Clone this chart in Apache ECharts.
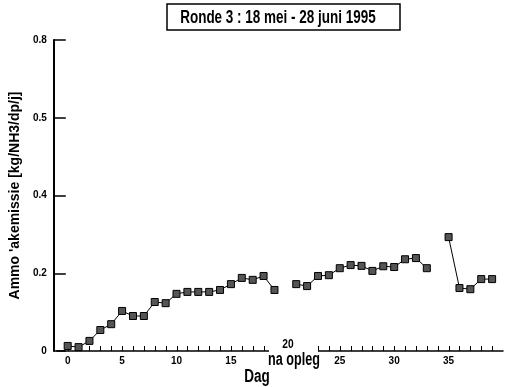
<!DOCTYPE html>
<html>
<head>
<meta charset="utf-8">
<script src="https://cdn.jsdelivr.net/npm/echarts@6/dist/echarts.min.js"></script>
<style>
  html, body { margin: 0; padding: 0; background: #fff; }
  #chart { width: 507px; height: 387px; }
</style>
</head>
<body>
<div id="chart"></div>
<script>
// Ronde 3 — ammoniakemissie per dag (gaps on day 20 and 34)
const days = [0, 1, 2, 3, 4, 5, 6, 7, 8, 9, 10, 11, 12, 13, 14, 15, 16, 17, 18, 19,
  20, 21, 22, 23, 24, 25, 26, 27, 28, 29, 30, 31, 32, 33, 34, 35, 36, 37, 38, 39];
const emission = [0.013, 0.010, 0.026, 0.054, 0.069, 0.103, 0.090, 0.090, 0.126, 0.123,
  0.147, 0.152, 0.152, 0.152, 0.157, 0.172, 0.188, 0.183, 0.193, 0.157,
  null, 0.172, 0.167, 0.193, 0.195, 0.213, 0.221, 0.219, 0.206, 0.218,
  0.216, 0.236, 0.239, 0.213, null, 0.293, 0.162, 0.159, 0.185, 0.185];
const yTickLabels = ['0', '0.2', '0.4', '0.5', '0.8'];
const xLabelValues = [0, 5, 10, 15, 25, 30, 35];
const xTickDays = [0, 1, 2, 3, 4, 5, 6, 7, 8, 9, 10, 11, 12, 13, 14, 15, 16, 17, 18,
  23, 24, 25, 26, 27, 28, 29, 30, 31, 32, 33, 34, 35, 36, 37, 38, 39];

const FONT = "'Liberation Sans', Arial, sans-serif";

// condensed text helper: ECharts axis labels can't be squeezed, graphics can
function narrowText(text, x, y, size, scale) {
  return {
    type: 'group', x: x, y: y, scaleX: scale, z: 110,
    children: [{
      type: 'text', x: 0, y: 0, z: 110,
      style: { text: text, fill: '#000', font: 'bold ' + size + 'px ' + FONT,
        align: 'center', verticalAlign: 'middle' }
    }]
  };
}

const chart = echarts.init(document.getElementById('chart'), null, { renderer: 'canvas' });

const graphics = [
  // break in the x axis around day 20
  { type: 'rect', z: 100, shape: { x: 269, y: 343, width: 49, height: 12 }, style: { fill: '#fff' } },
  narrowText('20', 288, 345, 12, 0.85),
  narrowText('na opleg', 294, 360, 18, 0.7),
  narrowText('Dag', 257, 377, 18, 0.75),
  // title box
  { type: 'rect', shape: { x: 167, y: 4, width: 233, height: 26 },
    style: { fill: '#fff', stroke: '#000', lineWidth: 1.5 } },
  narrowText('Ronde 3 : 18 mei - 28 juni 1995', 278, 18, 19, 0.71)
];

chart.setOption({
  animation: false,
  backgroundColor: '#fff',
  grid: { left: 56, right: 4, top: 40, bottom: 36, containLabel: false },
  xAxis: {
    type: 'value',
    min: -1,
    max: 40,
    interval: 1,
    splitLine: { show: false },
    axisLine: { onZero: false, lineStyle: { color: '#000', width: 1.5 } },
    axisTick: { show: false },
    axisLabel: {
      margin: 5,
      color: '#000',
      fontFamily: FONT,
      fontWeight: 'bold',
      fontSize: 10,
      formatter: (v) => (xLabelValues.indexOf(v) >= 0 ? String(v) : '')
    }
  },
  yAxis: {
    type: 'value',
    min: 0,
    max: 0.8,
    interval: 0.2,
    offset: 3,
    name: "Ammo 'akemissie [kg/NH3/dp/j]",
    nameLocation: 'middle',
    nameGap: 29,
    nameTextStyle: { color: '#000', fontFamily: FONT, fontWeight: 'bold', fontSize: 14 },
    splitLine: { show: false },
    axisLine: { onZero: false, lineStyle: { color: '#000', width: 2 } },
    axisTick: { inside: true, length: 12, lineStyle: { color: '#000', width: 1.5 } },
    axisLabel: {
      margin: 7,
      color: '#000',
      fontFamily: FONT,
      fontWeight: 'bold',
      fontSize: 10,
      formatter: (v) => yTickLabels[Math.round(v / 0.2)]
    }
  },
  series: [{
    type: 'line',
    data: days.map((d, i) => [d, emission[i]]),
    connectNulls: false,
    symbol: 'rect',
    symbolSize: 7,
    showAllSymbol: true,
    z: 5,
    lineStyle: { color: '#000', width: 1 },
    itemStyle: { color: '#555', borderColor: '#000', borderWidth: 1 }
  }],
  graphic: graphics
});

// day ticks: the x axis didn't draw its inside ticks, so place them through its own scale
const y0 = chart.convertToPixel({ yAxisIndex: 0 }, 0);
xTickDays.forEach(function (d) {
  const px = Math.round(chart.convertToPixel({ xAxisIndex: 0 }, d)) + 0.5;
  graphics.push({
    type: 'line', z: 1,
    shape: { x1: px, y1: y0, x2: px, y2: y0 - 5 },
    style: { stroke: '#000', lineWidth: 1 }
  });
});
chart.setOption({ graphic: graphics });
</script>
</body>
</html>
